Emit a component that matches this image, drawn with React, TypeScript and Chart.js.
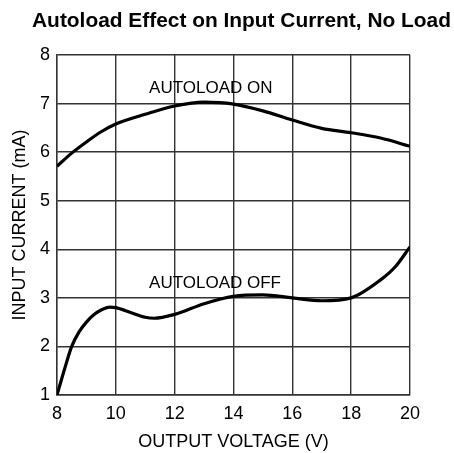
import React, { useEffect, useRef } from "react";
import { Chart, registerables } from "chart.js";

Chart.register(...registerables);

const chartTitle = "Autoload Effect on Input Current, No Load";
const xAxisTitle = "OUTPUT VOLTAGE (V)";
const yAxisTitle = "INPUT CURRENT (mA)";

const onVoltage = [8, 8.5, 9, 9.5, 10, 11, 12, 13, 14, 15, 16, 17, 18, 19, 20];
const onCurrent = [5.71, 5.98, 6.21, 6.42, 6.58, 6.78, 6.95, 7.03, 6.99, 6.85, 6.66, 6.49, 6.4, 6.29, 6.12];

const offVoltage = [8, 8.25, 8.5, 8.75, 9, 9.25, 9.5, 9.8, 10, 10.5, 11, 11.3, 12, 13, 14, 15, 16, 17, 18, 19, 19.5, 20];
const offCurrent = [1.0, 1.52, 2.0, 2.3, 2.5, 2.65, 2.75, 2.81, 2.8, 2.7, 2.6, 2.58, 2.66, 2.88, 3.03, 3.06, 3.0, 2.94, 3.0, 3.37, 3.64, 4.05];

const curveLabels = ["AUTOLOAD ON", "AUTOLOAD OFF"];
const labelX = [11.13, 11.13];
const labelY = [7.22, 3.21];

const FONT = "'Liberation Sans', Arial, sans-serif";

export default function App() {
  const canvasRef = useRef<HTMLCanvasElement | null>(null);

  useEffect(() => {
    document.body.style.margin = "0";
    const canvas = canvasRef.current;
    if (!canvas) return;

    const titlePlugin = {
      id: "customText",
      afterDraw(chart: any) {
        const ctx = chart.ctx;
        ctx.save();
        ctx.fillStyle = "#000";
        ctx.font = `bold 20.9px ${FONT}`;
        ctx.textAlign = "center";
        ctx.textBaseline = "alphabetic";
        ctx.fillText(chartTitle, 241.5, 27);
        const xs = chart.scales.x;
        const ys = chart.scales.y;
        ctx.font = `17px ${FONT}`;
        ctx.textAlign = "left";
        for (let i = 0; i < curveLabels.length; i++) {
          ctx.fillText(curveLabels[i], xs.getPixelForValue(labelX[i]), ys.getPixelForValue(labelY[i]));
        }
        ctx.restore();
      },
    };

    const chart = new Chart(canvas, {
      type: "line",
      data: {
        datasets: [
          {
            label: "AUTOLOAD ON",
            data: onVoltage.map((v, i) => ({ x: v, y: onCurrent[i] })),
            borderColor: "#000",
            borderWidth: 3.2,
            pointRadius: 0,
            cubicInterpolationMode: "monotone",
            fill: false,
          },
          {
            label: "AUTOLOAD OFF",
            data: offVoltage.map((v, i) => ({ x: v, y: offCurrent[i] })),
            borderColor: "#000",
            borderWidth: 3.2,
            pointRadius: 0,
            cubicInterpolationMode: "monotone",
            fill: false,
          },
        ],
      },
      options: {
        responsive: false,
        animation: false,
        layout: { padding: { top: 55, right: 44, left: 0, bottom: 0 } },
        plugins: {
          legend: { display: false },
          title: { display: false },
          tooltip: { enabled: false },
        },
        scales: {
          x: {
            type: "linear",
            min: 8,
            max: 20,
            afterFit: (s: any) => {
              s.height = 58;
            },
            ticks: {
              stepSize: 2,
              color: "#000",
              padding: 8,
              font: { family: FONT, size: 18 },
            },
            grid: { color: "#333", lineWidth: 1.4, drawTicks: false },
            border: { color: "#333", width: 1.4 },
            title: {
              display: true,
              text: xAxisTitle,
              color: "#000",
              font: { family: FONT, size: 18 },
              padding: { top: 0, bottom: 0 },
            },
          },
          y: {
            type: "linear",
            min: 1,
            max: 8,
            afterFit: (s: any) => {
              s.width = 57;
            },
            ticks: {
              stepSize: 1,
              color: "#000",
              padding: 7,
              font: { family: FONT, size: 18 },
            },
            grid: { color: "#333", lineWidth: 1.4, drawTicks: false },
            border: { color: "#333", width: 1.4 },
            title: {
              display: true,
              text: yAxisTitle,
              color: "#000",
              font: { family: FONT, size: 18 },
              padding: { top: 9, bottom: 0 },
            },
          },
        },
      },
      plugins: [titlePlugin],
    } as any);

    return () => chart.destroy();
  }, []);

  return (
    <div style={{ width: 454, height: 453, background: "#fff" }}>
      <canvas ref={canvasRef} width={454} height={453} />
    </div>
  );
}
